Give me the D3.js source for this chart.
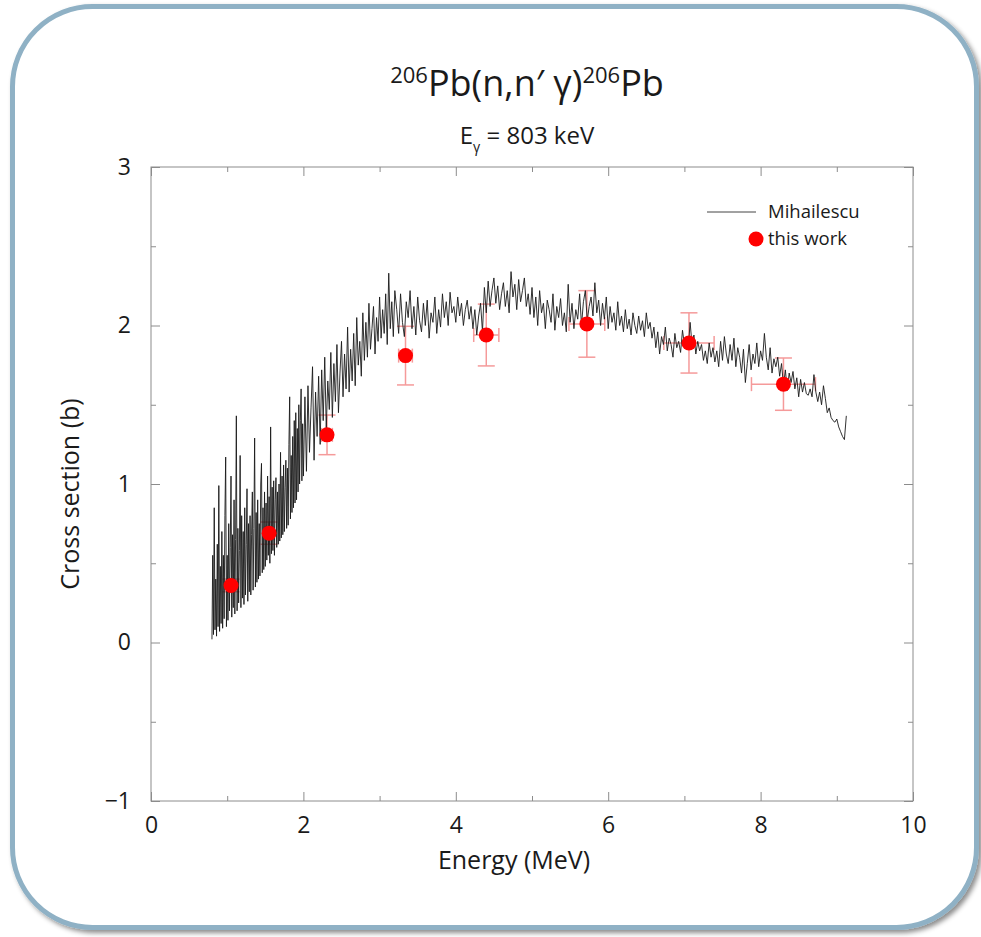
<!DOCTYPE html>
<html>
<head>
<meta charset="utf-8">
<script src="https://cdn.jsdelivr.net/npm/d3@7"></script>
<style>
body { margin: 0; background: #fff; }
svg text { font-family: "Open Sans", "Noto Sans", sans-serif; fill: #1a1a1a; }
</style>
</head>
<body>
<div class="canvas"></div>
<script>
// Mihailescu data in three energy segments (MeV -> barn)
const mihLow = {
    start: 0.80, step: 0.01,
    xs: [
        0.02, 0.55, 0.05, 0.85, 0.08, 0.40, 0.04, 0.62, 0.10, 0.99,
        0.07, 0.48, 0.12, 0.70, 0.09, 0.55, 0.15, 0.80, 1.17, 0.10,
        0.55, 0.14, 0.75, 0.20, 0.60, 1.05, 0.16, 0.68, 0.22, 0.90,
        0.18, 0.65, 1.43, 0.20, 0.72, 0.25, 0.58, 1.18, 0.22, 0.80,
        0.28, 0.70, 0.24, 0.85, 0.30, 0.62, 0.97, 0.26, 0.75, 0.32,
        0.80, 0.30, 0.68, 0.95, 0.33, 0.72, 1.29, 0.35, 0.82, 0.38,
        0.90, 0.40, 0.75, 0.42, 1.00, 1.13, 0.44, 0.85, 0.46, 0.95,
        0.48, 0.88, 0.52, 1.05, 0.55, 0.92, 0.50, 1.36, 0.56, 0.98,
        0.58, 1.02, 0.55, 0.90, 1.04, 0.60, 0.95, 0.62, 1.00, 0.64,
        1.20, 0.66, 1.05, 0.68, 1.12, 0.70, 0.98, 1.15, 0.72, 1.10,
        0.74, 1.25, 1.55, 0.78, 1.18, 0.82, 1.30, 0.85, 1.40, 0.88,
        1.45, 0.90, 1.35, 0.95, 1.50, 1.00, 1.40, 1.60, 1.02, 1.38,
        1.05
    ]
};
const mihMid = {
    start: 2.02, step: 0.02,
    xs: [
        1.55, 1.08, 1.62, 1.20, 1.48, 1.74, 1.15, 1.58, 1.30, 1.68,
        1.25, 1.72, 1.40, 1.80, 1.35, 1.65, 1.47, 1.83, 1.42, 1.76,
        1.52, 1.88, 1.45, 1.70, 1.90, 1.55, 1.82, 1.60, 1.99, 1.58,
        1.85, 1.65, 1.95, 1.62, 2.05, 1.75, 1.90, 1.68, 2.08, 1.78,
        2.02, 1.80, 2.14, 1.85, 1.98, 2.12, 1.82, 2.05, 1.90, 2.18,
        1.92, 2.10, 1.95, 2.20, 1.88, 2.33, 1.98, 2.15, 1.93, 2.22
    ]
};
const mihHigh = {
    start: 3.225, step: 0.025,
    xs: [
        2.10, 1.95, 2.20, 2.02, 1.93, 2.15, 2.05, 2.22,
        1.98, 2.12, 1.94, 2.18, 2.03, 1.96, 2.14, 2.00,
        2.16, 1.92, 2.08, 2.02, 2.18, 1.95, 2.10, 1.99,
        2.20, 2.05, 2.15, 2.00, 2.21, 2.08, 2.12, 2.02,
        2.18, 2.06, 2.14, 2.00, 2.10, 2.16, 2.04, 2.12,
        1.98, 2.10, 1.94, 2.06, 2.14, 1.96, 2.24, 2.08,
        2.28, 2.12, 2.22, 2.30, 2.14, 2.25, 2.10, 2.20,
        2.27, 2.12, 2.22, 2.08, 2.34, 2.18, 2.26, 2.10,
        2.29, 2.15, 2.22, 2.30, 2.12, 2.20, 2.07, 2.24,
        2.05, 2.18, 2.00, 2.22, 2.08, 2.14, 1.98, 2.16,
        2.10, 2.02, 2.20, 1.97, 2.12, 2.05, 2.17, 2.00,
        2.08, 1.96, 2.26, 2.02, 2.14, 1.98, 2.10, 2.04,
        2.20, 2.00, 2.15, 2.22, 2.03, 2.12, 2.18, 2.06,
        2.27, 2.08, 2.16, 2.00, 2.14, 2.04, 2.18, 1.98,
        2.12, 2.02, 2.08, 1.97, 2.15, 2.00, 2.06, 1.96,
        2.10, 1.98, 2.04, 1.94, 2.08, 2.00, 1.95, 2.06,
        1.97, 2.03, 1.93, 2.08, 1.98, 2.02, 1.92, 1.99,
        1.86, 1.96, 1.82, 1.93, 1.88, 1.99, 1.84, 1.92,
        1.88, 1.80, 1.95, 1.86, 1.90, 1.83, 1.97, 1.88,
        1.92, 1.85, 2.02, 1.88, 1.94, 1.82, 1.90, 1.84,
        1.88, 1.78, 1.84, 1.76, 1.89, 1.80, 1.86, 1.77,
        1.84, 1.74, 1.90, 1.78, 1.93, 1.82, 1.76, 1.88,
        1.78, 1.92, 1.74, 1.86, 1.80, 1.70, 1.85, 1.64,
        1.76, 1.88, 1.72, 1.82, 1.76, 1.89, 1.74, 1.84,
        1.78, 1.95, 1.80, 1.72, 1.86, 1.70, 1.79, 1.74,
        1.80, 1.68, 1.76, 1.62, 1.72, 1.59, 1.70, 1.64,
        1.71, 1.60, 1.67, 1.55, 1.66, 1.58, 1.64, 1.57,
        1.56, 1.60, 1.55, 1.69, 1.58, 1.52, 1.58, 1.50,
        1.62, 1.54, 1.45, 1.48, 1.42, 1.40, 1.39, 1.41,
        1.36, 1.33, 1.30, 1.28, 1.43
    ]
};

// this work
const workE = [1.05, 1.55, 2.31, 3.34, 4.40, 5.72, 7.06, 8.30];
const workXS = [0.36, 0.69, 1.31, 1.81, 1.94, 2.01, 1.89, 1.63];
const workErrXS = [0.04, 0.07, 0.125, 0.185, 0.195, 0.21, 0.19, 0.165];
const workErrE = [0.03, 0.05, 0.07, 0.09, 0.165, 0.235, 0.33, 0.42];

const xMajor = [0, 2, 4, 6, 8, 10];
const xMinor = [1, 3, 5, 7, 9];
const yMajor = [-1, 0, 1, 2, 3];
const yMinor = [-0.5, 0.5, 1.5, 2.5];

const dims = { width: 981, height: 937 };
const plot = { left: 151, right: 913, top: 167, bottom: 801 };

const svg = d3.select('.canvas')
    .append('svg')
    .attr('width', dims.width)
    .attr('height', dims.height)
;

// frame with shadow
const defs = svg.append('defs');
defs.append('filter')
    .attr('id', 'shadow')
    .attr('x', '-5%').attr('y', '-5%')
    .attr('width', '112%').attr('height', '112%')
    .append('feDropShadow')
    .attr('dx', 3).attr('dy', 3)
    .attr('stdDeviation', 2.5)
    .attr('flood-color', '#000')
    .attr('flood-opacity', 0.45)
;

svg.append('rect')
    .attr('x', 12.5).attr('y', 6.5)
    .attr('width', 964).attr('height', 921)
    .attr('rx', 80).attr('ry', 80)
    .attr('fill', '#fff')
    .attr('stroke', '#8fb1c5')
    .attr('stroke-width', 5)
    .attr('filter', 'url(#shadow)')
;

const x = d3.scaleLinear().domain([0, 10]).range([plot.left, plot.right]);
const y = d3.scaleLinear().domain([-1, 3]).range([plot.bottom, plot.top]);

// axes, ticks pointing inwards on all four sides
const axisColour = '#8c8c8c';
const styleAxis = (g) => {
    g.select('.domain').remove();
    g.selectAll('line').attr('stroke', axisColour).attr('stroke-width', 1);
    g.selectAll('text').attr('font-size', 23).attr('fill', '#1a1a1a');
};

svg.append('g')
    .attr('transform', `translate(0, ${plot.bottom})`)
    .call(d3.axisBottom(x).tickValues(xMajor).tickSize(-9).tickPadding(16).tickFormat(d3.format('d')))
    .call(styleAxis)
;
svg.append('g')
    .attr('transform', `translate(0, ${plot.bottom})`)
    .call(d3.axisBottom(x).tickValues(xMinor).tickSize(-5).tickFormat(''))
    .call(styleAxis)
;
svg.append('g')
    .attr('transform', `translate(0, ${plot.top})`)
    .call(d3.axisTop(x).tickValues(xMajor).tickSize(-9).tickFormat(''))
    .call(styleAxis)
;
svg.append('g')
    .attr('transform', `translate(0, ${plot.top})`)
    .call(d3.axisTop(x).tickValues(xMinor).tickSize(-5).tickFormat(''))
    .call(styleAxis)
;
svg.append('g')
    .attr('transform', `translate(${plot.left}, 0)`)
    .call(d3.axisLeft(y).tickValues(yMajor).tickSize(-9).tickPadding(20).tickFormat(d3.format('d')))
    .call(styleAxis)
;
svg.append('g')
    .attr('transform', `translate(${plot.left}, 0)`)
    .call(d3.axisLeft(y).tickValues(yMinor).tickSize(-5).tickFormat(''))
    .call(styleAxis)
;
svg.append('g')
    .attr('transform', `translate(${plot.right}, 0)`)
    .call(d3.axisRight(y).tickValues(yMajor).tickSize(-9).tickFormat(''))
    .call(styleAxis)
;
svg.append('g')
    .attr('transform', `translate(${plot.right}, 0)`)
    .call(d3.axisRight(y).tickValues(yMinor).tickSize(-5).tickFormat(''))
    .call(styleAxis)
;

svg.append('rect')
    .attr('x', plot.left).attr('y', plot.top)
    .attr('width', plot.right - plot.left)
    .attr('height', plot.bottom - plot.top)
    .attr('fill', 'none')
    .attr('stroke', axisColour)
    .attr('stroke-width', 1)
;

// titles
const title = svg.append('text')
    .attr('x', 527).attr('y', 96)
    .attr('text-anchor', 'middle')
    .attr('font-size', 36)
;
title.append('tspan').attr('font-size', 22).attr('dy', -13).text('206');
title.append('tspan').attr('dy', 13).text('Pb(n,n\u2032 \u03b3)');
title.append('tspan').attr('font-size', 22).attr('dy', -13).text('206');
title.append('tspan').attr('dy', 13).text('Pb');

const sub = svg.append('text')
    .attr('x', 527).attr('y', 144)
    .attr('text-anchor', 'middle')
    .attr('font-size', 24)
;
sub.append('tspan').text('E');
sub.append('tspan').attr('font-size', 14).attr('dy', 8).text('\u03b3');
sub.append('tspan').attr('dy', -8).text(' = 803 keV');

svg.append('text')
    .attr('x', 514).attr('y', 869)
    .attr('text-anchor', 'middle')
    .attr('font-size', 25)
    .text('Energy (MeV)')
;
svg.append('text')
    .attr('transform', `translate(79, 494) rotate(-90)`)
    .attr('text-anchor', 'middle')
    .attr('font-size', 25)
    .text('Cross section (b)')
;

// data
const mihailescu = [];
[mihLow, mihMid, mihHigh].forEach(seg => {
    seg.xs.forEach((v, i) => mihailescu.push({ e: seg.start + i * seg.step, xs: v }));
});

const work = workE.map((e, i) => ({ e, xs: workXS[i], dxs: workErrXS[i], de: workErrE[i] }));

const errColour = '#f59a9a';
const bars = svg.append('g')
    .attr('stroke', errColour)
    .attr('stroke-width', 1.5)
;
const capV = 8.5;
const capH = 7;
work.forEach(d => {
    const cx = x(d.e), cy = y(d.xs);
    const y0 = y(d.xs - d.dxs), y1 = y(d.xs + d.dxs);
    const x0 = x(d.e - d.de), x1 = x(d.e + d.de);
    bars.append('line').attr('x1', cx).attr('x2', cx).attr('y1', y0).attr('y2', y1);
    bars.append('line').attr('x1', cx - capV).attr('x2', cx + capV).attr('y1', y0).attr('y2', y0);
    bars.append('line').attr('x1', cx - capV).attr('x2', cx + capV).attr('y1', y1).attr('y2', y1);
    bars.append('line').attr('x1', x0).attr('x2', x1).attr('y1', cy).attr('y2', cy);
    bars.append('line').attr('x1', x0).attr('x2', x0).attr('y1', cy - capH).attr('y2', cy + capH);
    bars.append('line').attr('x1', x1).attr('x2', x1).attr('y1', cy - capH).attr('y2', cy + capH);
});

const line = d3.line()
    .x(d => x(d.e))
    .y(d => y(d.xs))
;

svg.append('path')
    .datum(mihailescu)
    .attr('d', line)
    .attr('fill', 'none')
    .attr('stroke', '#1a1a1a')
    .attr('stroke-width', 0.9)
    .attr('stroke-linejoin', 'round')
;

svg.append('g')
    .selectAll('circle')
    .data(work)
    .enter()
    .append('circle')
    .attr('cx', d => x(d.e))
    .attr('cy', d => y(d.xs))
    .attr('r', 7.5)
    .attr('fill', '#ff0000')
;

// legend
const legend = svg.append('g').attr('font-size', 18.5);
legend.append('line')
    .attr('x1', 707).attr('x2', 756)
    .attr('y1', 212).attr('y2', 212)
    .attr('stroke', '#444')
    .attr('stroke-width', 1)
;
legend.append('text')
    .attr('x', 768).attr('y', 212).attr('dy', '0.35em')
    .text('Mihailescu')
;
legend.append('circle')
    .attr('cx', 756).attr('cy', 239).attr('r', 7.5)
    .attr('fill', '#ff0000')
;
legend.append('text')
    .attr('x', 768).attr('y', 239).attr('dy', '0.35em')
    .text('this work')
;
</script>
</body>
</html>
